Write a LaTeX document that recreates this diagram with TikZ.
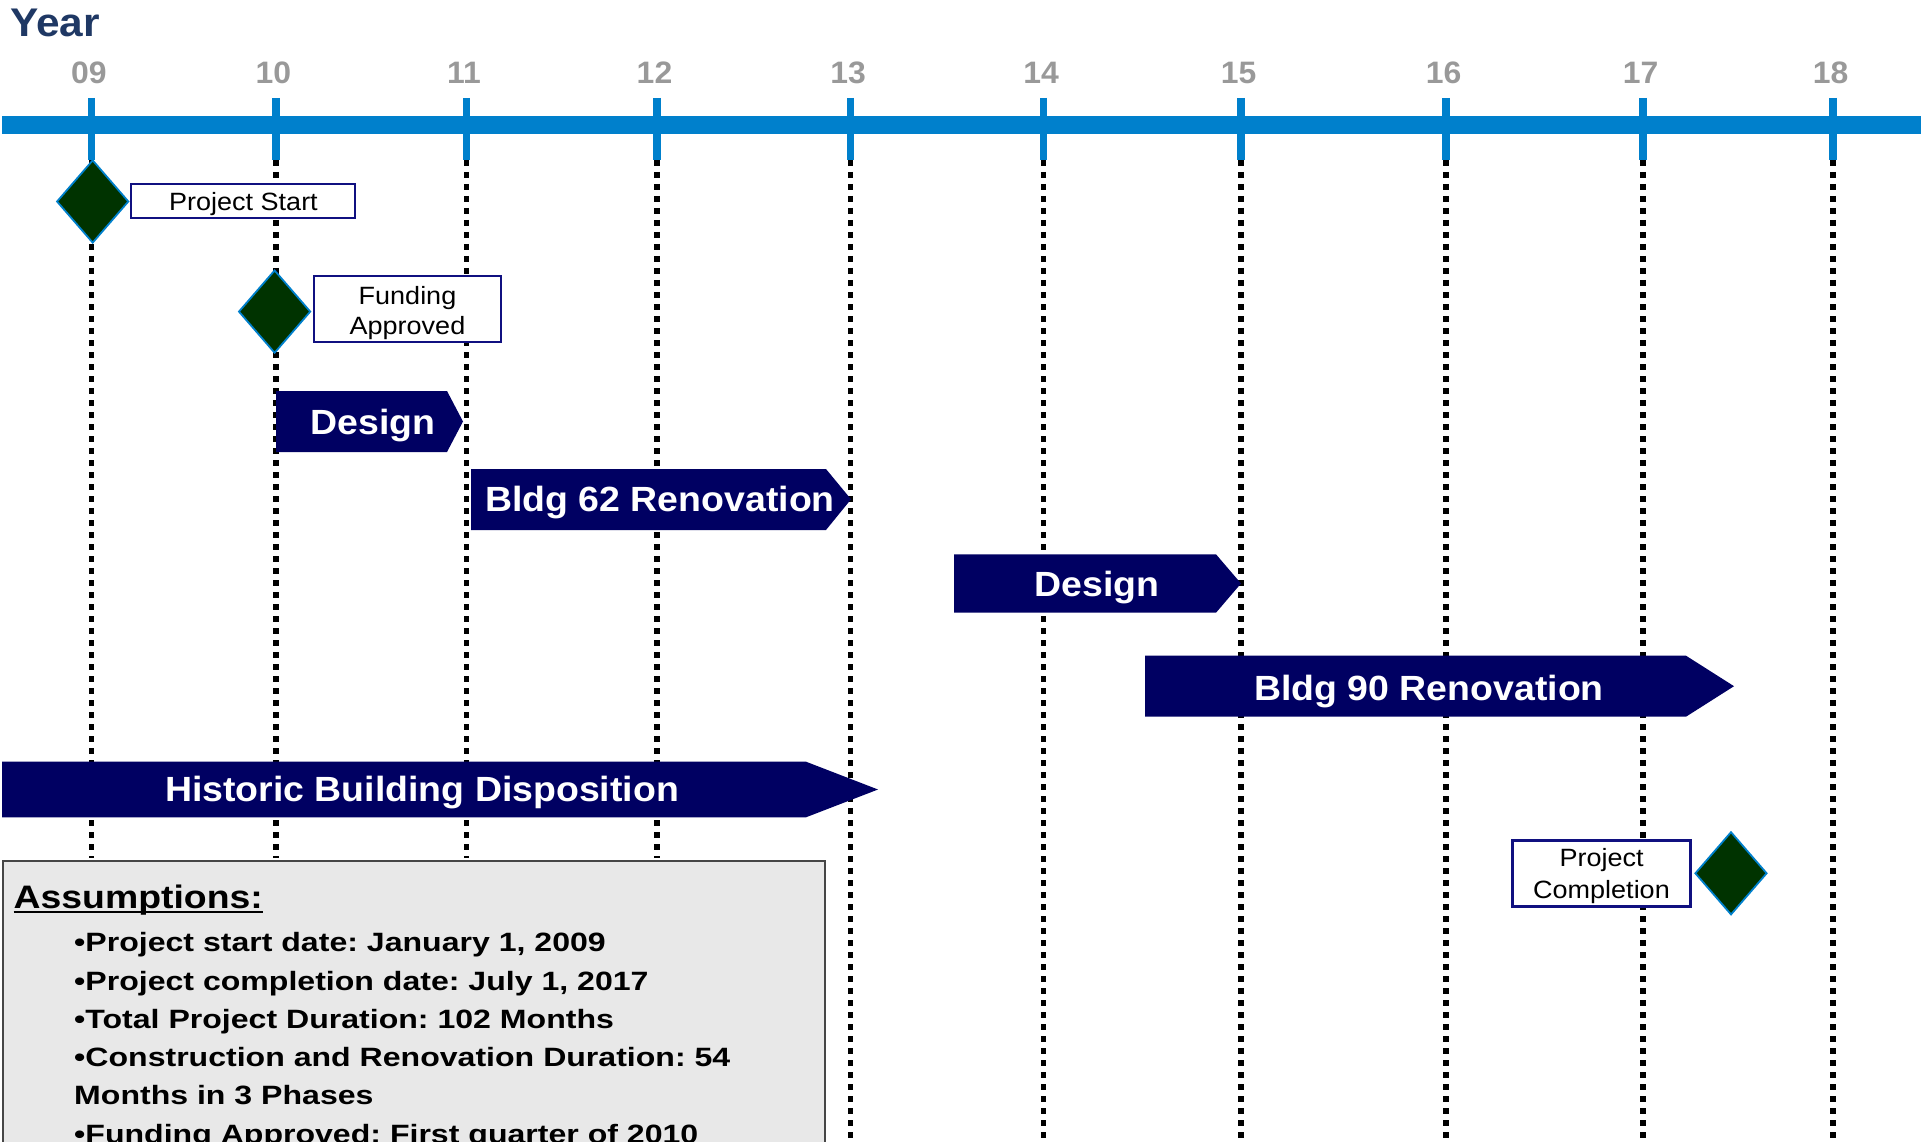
\documentclass[tikz,border=0pt]{standalone}
\usepackage{fontspec}
\setmainfont{Liberation Sans}
\newfontfamily\fyr{Liberation Sans}[FakeStretch=1.06]
\newfontfamily\fnum{Liberation Sans}[FakeStretch=1.03]
\newfontfamily\farr{Liberation Sans}[FakeStretch=1.07]
\newfontfamily\flbl{Liberation Sans}[FakeStretch=1.08]
\newfontfamily\fbul{Liberation Sans}[FakeStretch=1.21]
\newfontfamily\fhead{Liberation Sans}[FakeStretch=1.15]
\usetikzlibrary{shapes.geometric}
\definecolor{axisblue}{RGB}{0,128,204}
\definecolor{yearblue}{RGB}{31,56,100}
\definecolor{numgray}{RGB}{153,153,153}
\definecolor{barnavy}{RGB}{0,0,98}
\definecolor{msgreen}{RGB}{0,51,0}
\definecolor{lblnavy}{RGB}{16,16,128}
\definecolor{boxgray}{RGB}{232,232,232}
\definecolor{boxedge}{RGB}{70,70,70}
\frenchspacing
\begin{document}
\begin{tikzpicture}[x=1pt,y=-1pt,
  axisline/.style={axisblue, line width=18pt},
  tickline/.style={axisblue, line width=7.3pt},
  yearnum/.style={numgray, font=\fnum\fontsize{31}{34}\selectfont\bfseries, anchor=base, inner sep=0pt},
  yeartitle/.style={yearblue, font=\fyr\fontsize{40}{44}\selectfont\bfseries, anchor=base west, inner sep=0pt},
  dotline/.style={black, line width=5.5pt, dash pattern=on 6pt off 6pt},
  milestone/.style={diamond, draw=axisblue, fill=msgreen, line width=1.8pt, minimum width=72pt, minimum height=83pt, inner sep=0pt},
  lblbox/.style={draw=lblnavy, fill=white, line width=2.4pt, inner sep=0pt},
  lbltxt/.style={font=\flbl\fontsize{25}{31}\selectfont, anchor=base, inner sep=0pt},
  phase/.style={fill=barnavy},
  phasetxt/.style={white, font=\farr\fontsize{35}{40}\selectfont\bfseries, anchor=base, inner sep=0pt},
  asbox/.style={draw=boxedge, fill=boxgray, line width=1.8pt, inner sep=0pt},
  ashead/.style={font=\fhead\fontsize{32.5}{36}\selectfont\bfseries, anchor=base west, inner sep=0pt},
  asline/.style={font=\fbul\fontsize{26.5}{32}\selectfont\bfseries, anchor=base west, inner sep=0pt}
]
\path[use as bounding box] (0,0) rectangle (1931,1142);
\clip (0,0) rectangle (1931,1142);

% dotted year guide lines
\foreach \yr/\xx/\ee in {09/91.5/858, 10/276/858, 11/466.5/858, 12/657/858, 13/850.5/1150, 14/1043.5/1150, 15/1241/1150, 16/1446/1150, 17/1643/1150, 18/1833/1150}{
  \coordinate (tb\yr) at (\xx,160);
  \coordinate (de\yr) at (\xx,\ee);
  \draw[dotline] (tb\yr) -- (de\yr);
}

% axis
\coordinate (axL) at (2,125);
\coordinate (axR) at (1921,125);
\draw[axisline] (axL) -- (axR);
\foreach \yr/\xx in {09/91.5, 10/276, 11/466.5, 12/657, 13/850.5, 14/1043.5, 15/1241, 16/1446, 17/1643, 18/1833}{
  \coordinate (tt\yr) at (\xx,98);
  \draw[tickline] (tt\yr) -- (tb\yr);
  \node[yearnum] (yn\yr) at (\xx-2.5,83.5) {\yr};
}
\node[yeartitle] (year) at (10,36.7) {Year};

% assumptions box
\node[asbox, anchor=north west, minimum width=822pt, minimum height=330pt] (abox) at (1.7,860) {};
\node[ashead] (ahead) at (13.5,908) {Assumptions:};
\draw[line width=2.6pt] ([yshift=-4pt]ahead.base west) -- ([yshift=-4pt]ahead.base east);
\node[asline] (a1) at (74,951.7) {•Project start date: January 1, 2009};
\node[asline] (a2) at (74,990) {•Project completion date: July 1, 2017};
\node[asline] (a3) at (74,1028.3) {•Total Project Duration: 102 Months};
\node[asline] (a4) at (74,1066.6) {•Construction and Renovation Duration: 54};
\node[asline] (a5) at (74,1104.9) {Months in 3 Phases};
\node[asline] (a6) at (74,1143.2) {•Funding Approved: First quarter of 2010};

% phase arrows
\fill[phase] (276,391) -- (447,391) -- (463,421.5) -- (447,452) -- (276,452) -- cycle;
\node[phasetxt] (p1) at (372.8,434) {Design};
\fill[phase] (471,469) -- (826,469) -- (851,499.3) -- (826,530) -- (471,530) -- cycle;
\node[phasetxt] (p2) at (660,511.7) {Bldg 62 Renovation};
\fill[phase] (954,554.3) -- (1216,554.3) -- (1241,583.5) -- (1216,612.7) -- (954,612.7) -- cycle;
\node[phasetxt] (p3) at (1097,596.7) {Design};
\fill[phase] (1145,655.7) -- (1686,655.7) -- (1734,686.2) -- (1686,716.7) -- (1145,716.7) -- cycle;
\node[phasetxt] (p4) at (1429,700) {Bldg 90 Renovation};
\fill[phase] (2,761.7) -- (806,761.7) -- (878,789.5) -- (806,817.3) -- (2,817.3) -- cycle;
\node[phasetxt] (p5) at (422,801.7) {Historic Building Disposition};

% milestone labels
\node[lblbox, minimum width=224pt, minimum height=34pt] (l1) at (243,201) {};
\node[lbltxt] (l1t) at (243.5,210.7) {Project Start};
\node[lblbox, minimum width=187pt, minimum height=66pt] (l2) at (407.5,308.8) {};
\node[lbltxt] (l2a) at (407.5,304) {Funding};
\node[lbltxt] (l2b) at (407.5,334.5) {Approved};
\node[lblbox, minimum width=178pt, minimum height=66pt] (l3) at (1601.5,873.3) {};
\node[lbltxt] (l3a) at (1601.5,866.7) {Project};
\node[lbltxt] (l3b) at (1601.5,898.3) {Completion};

% milestones
\node[milestone] (m1) at (92.7,201.5) {};
\node[milestone] (m2) at (274.6,311.6) {};
\node[milestone] (m3) at (1731,873.3) {};
\end{tikzpicture}
\end{document}
